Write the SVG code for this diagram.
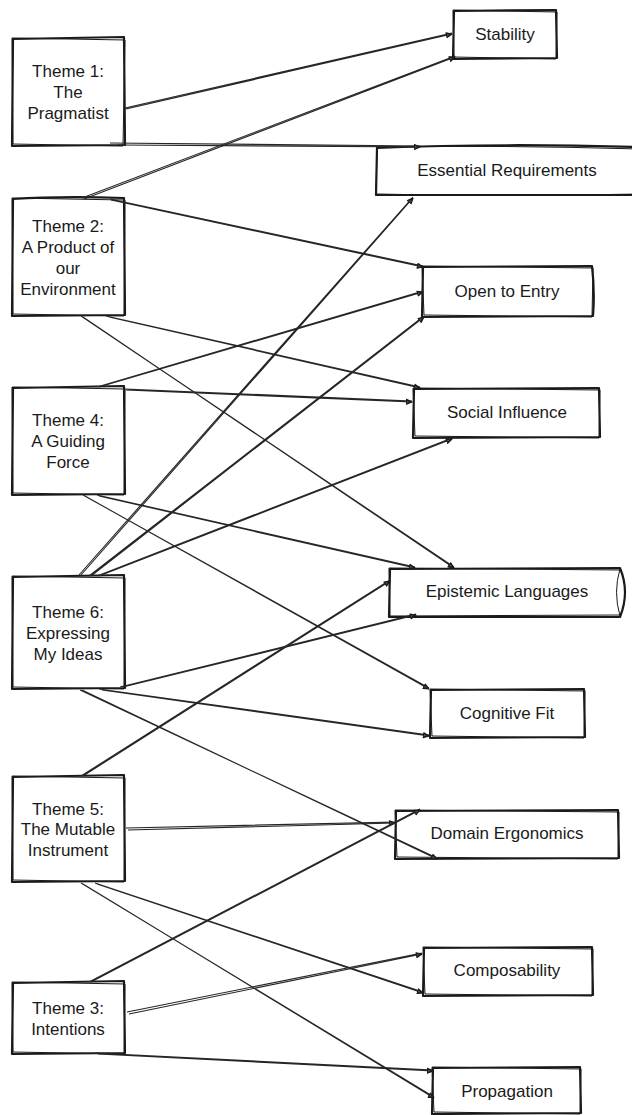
<svg xmlns="http://www.w3.org/2000/svg" width="632" height="1115" viewBox="0 0 632 1115">
  <style>
    .box { fill: #ffffff; stroke: #1a1a1a; stroke-width: 2.2; stroke-linejoin: round; }
    .pass { fill: none; stroke: #1a1a1a; stroke-width: 1; }
    .edge { fill: none; stroke: #262626; stroke-width: 1.1; marker-end: url(#head); }
    .label { font-family: "Liberation Sans", Arial, Helvetica, sans-serif; font-size: 17px; fill: #1a1a1a; text-anchor: middle; }
  </style>
  <defs>
    <marker id="head" viewBox="0 0 10 10" refX="9" refY="5" markerWidth="7" markerHeight="7" markerUnits="userSpaceOnUse" orient="auto">
      <path d="M1,1.5 L9,5 L1,8.5 Z" fill="#555" stroke="#1a1a1a" stroke-width="1.6" stroke-linejoin="round"/>
      <path d="M2,3 L7,5 L2,7" fill="none" stroke="#1a1a1a" stroke-width="1.2"/>
    </marker>
  </defs>

  <rect width="632" height="1115" fill="#ffffff"/>

  <!-- theme nodes (left column) -->
  <g id="theme1">
    <path class="box" d="M13,39 L124,37 L125,145 L12,146 Z"/>
    <path class="pass" d="M12,38 L125,40 L123,146 L13,144 Z"/>
    <text class="label" x="68" y="77">Theme 1:</text>
    <text class="label" x="68" y="98">The</text>
    <text class="label" x="68" y="119">Pragmatist</text>
  </g>
  <g id="theme2">
    <path class="box" d="M13,199 Q60,196 124,198 L125,315 L12,316 Z"/>
    <path class="pass" d="M12,198 L125,200 L124,316 L13,314 Z"/>
    <text class="label" x="68" y="232">Theme 2:</text>
    <text class="label" x="68" y="253">A Product of</text>
    <text class="label" x="68" y="274">our</text>
    <text class="label" x="68" y="295">Environment</text>
  </g>
  <g id="theme4">
    <path class="box" d="M13,388 L124,386 L125,494 L12,495 Z"/>
    <path class="pass" d="M12,387 L125,389 L124,495 L13,493 Z"/>
    <text class="label" x="68" y="426">Theme 4:</text>
    <text class="label" x="68" y="447">A Guiding</text>
    <text class="label" x="68" y="468">Force</text>
  </g>
  <g id="theme6">
    <path class="box" d="M13,577 L124,575 L125,688 L12,689 Z"/>
    <path class="pass" d="M12,576 L125,578 L124,689 L13,687 Z"/>
    <text class="label" x="68" y="618">Theme 6:</text>
    <text class="label" x="68" y="639">Expressing</text>
    <text class="label" x="68" y="660">My Ideas</text>
  </g>
  <g id="theme5">
    <path class="box" d="M13,777 L124,775 L125,881 L12,882 Z"/>
    <path class="pass" d="M12,776 L125,778 L124,882 L13,880 Z"/>
    <text class="label" x="68" y="815">Theme 5:</text>
    <text class="label" x="68" y="835">The Mutable</text>
    <text class="label" x="68" y="856">Instrument</text>
  </g>
  <g id="theme3">
    <path class="box" d="M13,983 L124,981 L125,1053 L12,1054 Z"/>
    <path class="pass" d="M12,982 L125,984 L124,1054 L13,1052 Z"/>
    <text class="label" x="68" y="1014">Theme 3:</text>
    <text class="label" x="68" y="1035">Intentions</text>
  </g>

  <!-- concept nodes (right column) -->
  <g id="stability">
    <path class="box" d="M454,11 L556,10 L557,58 L453,59 Z"/>
    <path class="pass" d="M453,10 L557,12 L556,59 L454,57 Z"/>
    <text class="label" x="505" y="40">Stability</text>
  </g>
  <g id="essential">
    <path class="box" d="M377,148 Q500,143 640,147 L640,195 L376,195 Z"/>
    <path class="pass" d="M376,147 Q500,145 640,149 M376,194 Q500,197 640,194 M377,147 L376,196"/>
    <text class="label" x="507" y="176">Essential Requirements</text>
  </g>
  <g id="open-entry">
    <path class="box" d="M423,267 L592,266 Q595,292 593,316 L422,317 Z"/>
    <path class="pass" d="M422,266 L593,268 L592,317 L424,315 Z"/>
    <text class="label" x="507" y="297">Open to Entry</text>
  </g>
  <g id="social">
    <path class="box" d="M414,389 L599,388 L600,437 L413,438 Z"/>
    <path class="pass" d="M413,388 L600,390 L599,438 L415,436 Z"/>
    <text class="label" x="507" y="418">Social Influence</text>
  </g>
  <g id="epistemic">
    <path class="box" d="M390,569 L620,568 Q630,592 620,617 L389,617 Z"/>
    <path class="pass" d="M389,568 L620,570 M620,569 Q613,592 620,616 M390,616 L620,615 M389,568 L390,617"/>
    <text class="label" x="507" y="597">Epistemic Languages</text>
  </g>
  <g id="cognitive">
    <path class="box" d="M431,690 L584,689 L585,737 L430,738 Z"/>
    <path class="pass" d="M430,689 L585,691 L584,738 L432,736 Z"/>
    <text class="label" x="507" y="719">Cognitive Fit</text>
  </g>
  <g id="domain">
    <path class="box" d="M396,811 L618,810 L619,858 L395,859 Z"/>
    <path class="pass" d="M395,810 L619,812 L618,859 L397,857 Z"/>
    <text class="label" x="507" y="839">Domain Ergonomics</text>
  </g>
  <g id="composability">
    <path class="box" d="M424,948 L592,947 L593,995 L423,996 Z"/>
    <path class="pass" d="M423,947 L593,949 L592,996 L425,994 Z"/>
    <text class="label" x="507" y="976">Composability</text>
  </g>
  <g id="propagation">
    <path class="box" d="M433,1068 L580,1067 L581,1113 L432,1114 Z"/>
    <path class="pass" d="M432,1067 L581,1069 L580,1114 L434,1112 Z"/>
    <text class="label" x="507" y="1097">Propagation</text>
  </g>

  <!-- connectors: each drawn as a doubled hand-drawn stroke -->
  <g id="connectors">
    <path class="edge" d="M125,108 L452,33 M126,109 L452,34"/>
    <path class="edge" d="M110,143 L420,146 M118,145 L420,147"/>
    <path class="edge" d="M82,198 L455,56 M84,199 L455,57"/>
    <path class="edge" d="M110,199 L423,266 M111,200 L423,267"/>
    <path class="edge" d="M106,316 L420,387 M109,317 L420,388"/>
    <path class="edge" d="M81,316 L454,567 M83,317 L454,568"/>
    <path class="edge" d="M97,387 L423,291 M99,387 L423,292"/>
    <path class="edge" d="M125,389 L412,401 M126,390 L412,402"/>
    <path class="edge" d="M97,495 L415,567 M99,496 L415,568"/>
    <path class="edge" d="M83,495 L429,688 M85,496 L429,689"/>
    <path class="edge" d="M79,575 L413,197 M81,575 L413,198"/>
    <path class="edge" d="M89,576 L424,316 M91,576 L424,317"/>
    <path class="edge" d="M97,576 L452,438 M99,576 L452,439"/>
    <path class="edge" d="M120,687 L416,614 M123,687 L416,615"/>
    <path class="edge" d="M99,689 L429,735 M102,690 L429,736"/>
    <path class="edge" d="M80,690 L437,858 M82,690 L437,859"/>
    <path class="edge" d="M81,776 L390,580 M83,776 L390,581"/>
    <path class="edge" d="M126,828 L395,822 M128,830 L395,823"/>
    <path class="edge" d="M95,883 L423,992 M97,884 L423,993"/>
    <path class="edge" d="M81,883 L434,1097 M83,884 L434,1098"/>
    <path class="edge" d="M89,982 L420,809 M91,982 L420,810"/>
    <path class="edge" d="M127,1012 L422,953 M129,1014 L422,954"/>
    <path class="edge" d="M95,1053 L433,1070 M98,1054 L433,1071"/>
  </g>
</svg>
